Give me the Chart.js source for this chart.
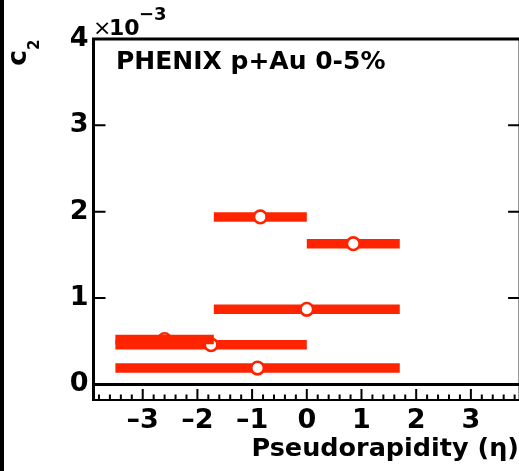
<!DOCTYPE html>
<html>
<head>
<meta charset="utf-8">
<script src="https://cdn.jsdelivr.net/npm/chart.js@4/dist/chart.umd.min.js"></script>
<style>
  html, body { margin: 0; padding: 0; background: #fff; overflow: hidden; }
  #c2chart { display: block; width: 519px; height: 471px; }
</style>
</head>
<body>
<canvas id="c2chart" width="519" height="471"></canvas>
<script>
// c2 (in units of 1e-3) versus pseudorapidity, PHENIX p+Au 0-5%
// Each measurement: eta range covered (horizontal band) and the marker position.
const ETA_LO  = [-1.7, 0.0, -1.7, -3.5, -3.5, -3.5];
const ETA_HI  = [ 0.0, 1.7,  1.7, -1.7,  0.0,  1.7];
const ETA_PT  = [-0.85, 0.85, 0.0, -2.6, -1.75, -0.9];
const C2      = [1.94, 1.63, 0.87, 0.52, 0.46, 0.19];

// Axis ticks
const X_TICKS = [-3, -2, -1, 0, 1, 2, 3];
const X_TICK_LABELS = ['\u20133', '\u20132', '\u20131', '0', '1', '2', '3'];
const Y_TICKS = [0, 1, 2, 3, 4];
const Y_TICK_LABELS = ['0', '1', '2', '3', '4'];

const RED = 'rgb(255,36,0)';
const FONT = 'DejaVu Sans';

// Drawing sequence, bottom to top ('bar' = eta band, 'pt' = marker)
const LAYERS = [
  ['bar', 0], ['bar', 1], ['bar', 2], ['bar', 5],
  ['pt', 3], ['bar', 4], ['pt', 4], ['bar', 3],
  ['pt', 0], ['pt', 1], ['pt', 2], ['pt', 5]
];

const datasets = LAYERS.map(([kind, i], k) => {
  const order = LAYERS.length - k; // higher order is painted first
  if (kind === 'bar') {
    return {
      type: 'line',
      data: [{ x: ETA_LO[i], y: C2[i] }, { x: ETA_HI[i], y: C2[i] }],
      showLine: true,
      borderColor: RED,
      borderWidth: 9.5,
      borderCapStyle: 'butt',
      pointRadius: 0,
      tension: 0,
      order
    };
  }
  return {
    type: 'scatter',
    data: [{ x: ETA_PT[i], y: C2[i] }],
    pointRadius: 6.3,
    pointBorderWidth: 2.6,
    pointBackgroundColor: '#fff',
    pointBorderColor: RED,
    showLine: false,
    order
  };
});

const framePlugin = {
  id: 'frame',
  beforeDraw(chart) {
    const ctx = chart.ctx;
    ctx.save();
    ctx.fillStyle = '#fff';
    ctx.fillRect(0, 0, chart.width, chart.height);
    ctx.fillStyle = '#000';
    ctx.fillRect(0, 0, 4, chart.height);
    ctx.restore();
  },
  afterDatasetsDraw(chart) {
    const ctx = chart.ctx;
    const xs = chart.scales.x, ys = chart.scales.y;
    const { left, top, bottom } = chart.chartArea;
    // the frame's right edge sits at eta = 3.9, just past the canvas edge
    const right = xs.getPixelForValue(3.9);
    ctx.save();
    ctx.strokeStyle = '#000';
    ctx.lineCap = 'butt';

    // frame: top, left, right
    ctx.lineWidth = 3;
    ctx.beginPath();
    ctx.moveTo(left, top); ctx.lineTo(right, top);
    ctx.moveTo(left, top - 1.5); ctx.lineTo(left, bottom + 1);
    ctx.moveTo(right, top - 1.5); ctx.lineTo(right, bottom + 1);
    ctx.stroke();

    // zero line
    const y0 = ys.getPixelForValue(0);
    ctx.lineWidth = 3;
    ctx.beginPath();
    ctx.moveTo(left, y0); ctx.lineTo(right, y0);
    ctx.stroke();

    // bottom frame line
    ctx.lineWidth = 2;
    ctx.beginPath();
    ctx.moveTo(left, bottom); ctx.lineTo(right, bottom);
    ctx.stroke();

    // x ticks (pointing up from the bottom line), 5 subdivisions
    ctx.lineWidth = 2;
    ctx.beginPath();
    for (let k = -19; k <= 19; k++) {
      const px = xs.getPixelForValue(k * 0.2);
      const len = (k % 5 === 0) ? 11 : 5.5;
      ctx.moveTo(px, bottom); ctx.lineTo(px, bottom - len);
    }
    ctx.stroke();

    // y ticks on both sides
    ctx.beginPath();
    [1, 2, 3].forEach(v => {
      const py = ys.getPixelForValue(v);
      ctx.moveTo(left, py); ctx.lineTo(left + 12, py);
      ctx.moveTo(right, py); ctx.lineTo(right - 12, py);
    });
    ctx.stroke();
    ctx.restore();
  },
  afterDraw(chart) {
    const ctx = chart.ctx;
    ctx.save();
    ctx.fillStyle = '#000';
    ctx.textBaseline = 'alphabetic';
    ctx.textAlign = 'left';

    // label inside the frame
    ctx.font = `bold 25px "${FONT}"`;
    ctx.fillText('PHENIX p+Au 0-5%', 116, 68.5);

    // axis multiplier
    ctx.font = `22px "${FONT}"`;
    ctx.fillText('\u00d7', 93, 35);
    ctx.font = `bold 22px "${FONT}"`;
    ctx.fillText('10', 109, 35);
    ctx.font = `bold 18px "${FONT}"`;
    ctx.fillText('\u22123', 139, 20);

    // y-axis title c_2, rotated
    ctx.translate(26, 66);
    ctx.rotate(-Math.PI / 2);
    ctx.font = `bold 27px "${FONT}"`;
    ctx.fillText('c', 0, 0);
    ctx.font = `bold 15px "${FONT}"`;
    ctx.fillText('2', 16, 13);
    ctx.restore();
  }
};

new Chart(document.getElementById('c2chart'), {
  type: 'scatter',
  data: { datasets },
  plugins: [framePlugin],
  options: {
    responsive: false,
    maintainAspectRatio: false,
    animation: false,
    devicePixelRatio: 1,
    layout: { autoPadding: false, padding: { top: 39, right: 0, left: 0, bottom: 0 } },
    plugins: { legend: { display: false }, tooltip: { enabled: false } },
    scales: {
      x: {
        type: 'linear',
        min: -3.9,
        max: 3.88,
        afterBuildTicks: s => { s.ticks = X_TICKS.map(v => ({ value: v })); },
        afterFit: s => {
          s.height = 71;
          s.paddingLeft = 0; s.paddingRight = 0;
        },
        grid: { display: false, drawTicks: false },
        border: { display: false },
        ticks: {
          autoSkip: false,
          maxRotation: 0,
          padding: 5,
          color: '#000',
          font: { family: FONT, weight: 'bold', size: 27 },
          callback: (v) => X_TICK_LABELS[X_TICKS.indexOf(v)]
        },
        title: {
          display: true,
          text: 'Pseudorapidity (\u03b7)',
          align: 'end',
          color: '#000',
          font: { family: FONT, weight: 'bold', size: 25.5 },
          padding: { top: 0, bottom: 6 }
        }
      },
      y: {
        type: 'linear',
        min: -0.18,
        max: 4,
        afterBuildTicks: s => { s.ticks = Y_TICKS.map(v => ({ value: v })); },
        afterFit: s => {
          s.width = 93.5;
          s.paddingTop = 0; s.paddingBottom = 0;
        },
        grid: { display: false, drawTicks: false },
        border: { display: false },
        ticks: {
          padding: 5,
          color: '#000',
          font: { family: FONT, weight: 'bold', size: 27 },
          callback: (v) => Y_TICK_LABELS[Y_TICKS.indexOf(v)]
        }
      }
    }
  }
});
</script>
</body>
</html>
